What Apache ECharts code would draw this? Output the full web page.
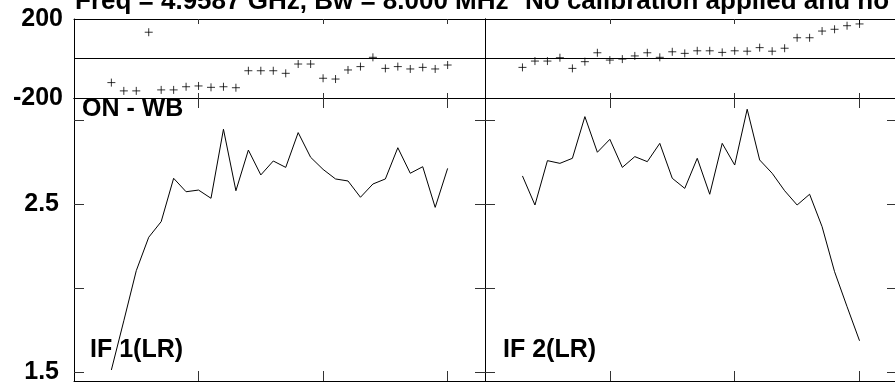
<html>
<head>
<meta charset="UTF-8" />
<script src="https://cdn.jsdelivr.net/npm/echarts@6/dist/echarts.min.js"></script>
</head>
<style type="text/css">
    *{
        margin: 0;
        padding: 0;
    }
    body{
        background: #fff;
    }
    #chart{
        width: 895px;
        height: 382px;
    }
</style>
<body>
<div id="chart"></div>
<script type="text/javascript">
    // channel numbers of the plotted points
    var channels = [3, 4, 5, 6, 7, 8, 9, 10, 11, 12, 13, 14, 15, 16, 17, 18, 19, 20, 21, 22, 23, 24, 25, 26, 27, 28, 29, 30];
    // phase (degrees) per IF
    var phaseIF1 = [-122, -164, -164, 133, -159, -159, -143, -139, -146, -143, -148, -62, -62, -62, -75, -28, -28, -100, -104, -58, -41, 6, -50, -41, -53, -45, -53, -33];
    var phaseIF2 = [-45, -13, -13, 4, -50, -16, 29, -8, -3, 13, 29, 6, 34, 26, 39, 39, 31, 39, 37, 55, 37, 52, 105, 105, 139, 148, 166, 175];
    // amplitude per IF
    var ampIF1 = [1.512, 1.805, 2.103, 2.302, 2.395, 2.653, 2.573, 2.583, 2.534, 2.945, 2.579, 2.821, 2.673, 2.756, 2.718, 2.925, 2.778, 2.706, 2.649, 2.637, 2.540, 2.619, 2.649, 2.835, 2.683, 2.722, 2.480, 2.712];
    var ampIF2 = [2.667, 2.494, 2.758, 2.742, 2.772, 3.020, 2.808, 2.885, 2.718, 2.782, 2.752, 2.861, 2.653, 2.593, 2.772, 2.558, 2.861, 2.732, 3.064, 2.762, 2.683, 2.579, 2.494, 2.558, 2.365, 2.097, 1.889, 1.686];
    // tick values
    var xTicks = [10, 20, 30];
    var phaseTicks = [-200, 0, 200];
    var ampTicks = [1.5, 2, 2.5, 3];
    var ampLabels = [1.5, 2.5];
    var ifNames = ['IF 1(LR)', 'IF 2(LR)'];

    var FONT = 'Liberation Sans, Arial, sans-serif';
    var myChart = echarts.init(document.getElementById('chart'), null, {renderer: 'canvas'});

    // 0: phase IF1, 1: phase IF2, 2: amp IF1, 3: amp IF2
    var grids = [
        {left: 74, top: 19, width: 411, height: 79, outerBoundsMode: 'none'},
        {left: 485, top: 19, width: 412, height: 79, outerBoundsMode: 'none'},
        {left: 74, top: 98, width: 411, height: 283, outerBoundsMode: 'none'},
        {left: 485, top: 98, width: 412, height: 283, outerBoundsMode: 'none'}
    ];

    var xAxes = [], yAxes = [], series = [];
    var lineStyle = {color: '#000', width: 1};

    for (var g = 0; g < 4; g++) {
        var isPhase = g < 2;
        var tickLen = isPhase ? 5 : 10;
        ['bottom', 'top'].forEach(function (pos) {
            xAxes.push({
                type: 'value', gridIndex: g, position: pos, min: 0, max: 33,
                axisLine: {show: true, onZero: false, lineStyle: lineStyle},
                axisTick: {show: true, inside: true, length: tickLen, customValues: xTicks, lineStyle: {color: '#333'}},
                axisLabel: {show: false},
                splitLine: {show: false}
            });
        });
        ['left', 'right'].forEach(function (pos) {
            var showLabel = pos === 'left' && (g === 0 || g === 2);
            if (isPhase) {
                yAxes.push({
                    type: 'value', gridIndex: g, position: pos, min: -200, max: 200, interval: 200,
                    axisLine: {show: true, onZero: false, lineStyle: lineStyle},
                    axisTick: {show: false},
                    axisLabel: {
                        show: showLabel, margin: 11, fontFamily: FONT, fontWeight: 'bold', fontSize: 25, color: '#000',
                        padding: [5, 0, 0, 0],
                        formatter: function (v) { return v === 0 ? '' : String(v); }
                    },
                    splitLine: {show: pos === 'left', lineStyle: lineStyle}
                });
            } else {
                yAxes.push({
                    type: 'value', gridIndex: g, position: pos, min: 1.5 - 9 / 168, max: 3 + 22 / 168,
                    axisLine: {show: true, onZero: false, lineStyle: lineStyle},
                    axisTick: {show: true, inside: true, length: 10, customValues: ampTicks, lineStyle: {color: '#333'}},
                    axisLabel: {
                        show: showLabel, margin: 15, fontFamily: FONT, fontWeight: 'bold', fontSize: 25, color: '#000',
                        padding: [5, 0, 0, 0],
                        customValues: ampLabels,
                        formatter: function (v) { return v.toFixed(1); }
                    },
                    splitLine: {show: false}
                });
            }
        });
    }

    function pairs(vals) {
        return channels.map(function (c, i) { return [c, vals[i]]; });
    }

    [phaseIF1, phaseIF2].forEach(function (vals, i) {
        series.push({
            type: 'scatter', xAxisIndex: i * 2, yAxisIndex: i * 2,
            data: pairs(vals),
            symbol: 'path://M0,4H8M4,0V8', symbolSize: 8,
            itemStyle: {color: 'transparent', borderColor: '#000', borderWidth: 1},
            silent: true
        });
    });
    [ampIF1, ampIF2].forEach(function (vals, i) {
        series.push({
            type: 'line', xAxisIndex: (i + 2) * 2, yAxisIndex: (i + 2) * 2,
            data: pairs(vals),
            showSymbol: false, symbol: 'none',
            lineStyle: {color: '#000', width: 1},
            silent: true
        });
    });

    function label(txt, x, y, size) {
        return {
            type: 'text', x: x, y: y, silent: true,
            style: {text: txt, fontFamily: FONT, fontWeight: 'bold', fontSize: size, fill: '#000', verticalAlign: 'middle'}
        };
    }

    var option = {
        animation: false,
        backgroundColor: '#fff',
        grid: grids,
        xAxis: xAxes,
        yAxis: yAxes,
        series: series,
        graphic: [
            label('Freq = 4.9587 GHz, Bw = 8.000 MHz', 75, 1.5, 26),
            label('No calibration applied and no', 525, 1.5, 26),
            label('ON - WB', 82, 109, 25),
            label(ifNames[0], 90, 350, 25),
            label(ifNames[1], 503, 350, 25)
        ]
    };
    myChart.setOption(option);
</script>
</body>
</html>
